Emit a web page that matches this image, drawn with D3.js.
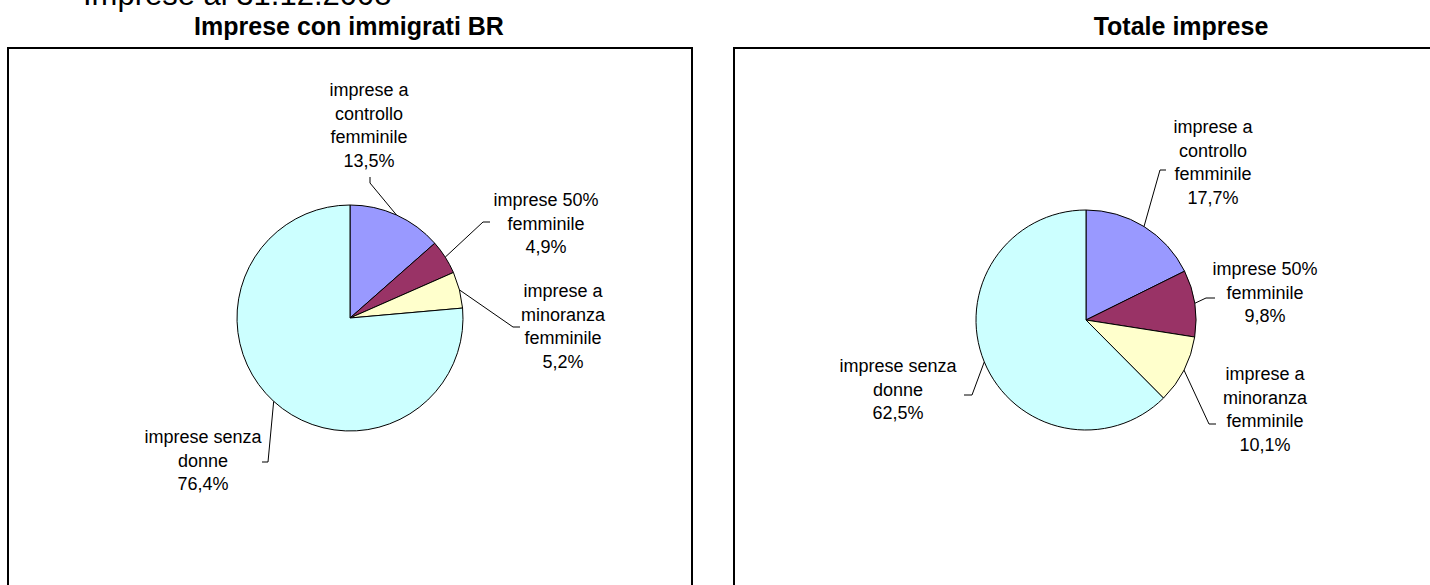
<!DOCTYPE html>
<html>
<head>
<meta charset="utf-8">
<script src="https://cdn.jsdelivr.net/npm/d3@7"></script>
<style>
  html, body { margin: 0; padding: 0; background: #fff; overflow: hidden; }
  svg { display: block; font-family: "Liberation Sans", Arial, sans-serif; }
</style>
</head>
<body>
<div id="chart"></div>
<script>
// data
const categories = ["impresa a controllo femminile", "imprese 50% femminile", "imprese a minoranza femminile", "imprese senza donne"];
const labelLines = [
    ["imprese a", "controllo", "femminile"],
    ["imprese 50%", "femminile"],
    ["imprese a", "minoranza", "femminile"],
    ["imprese senza", "donne"]
];
const immigratiValues = [13.5, 4.9, 5.2, 76.4];
const totaleValues = [17.7, 9.8, 10.1, 62.5];
const chartTitles = ["Imprese con immigrati BR", "Totale imprese"];
const pageTitle = "Imprese al 31.12.2008";
const colorSchema = ["#9999FF", "#993366", "#FFFFCC", "#CCFFFF"];

// layout (label centre x, first baseline y, leader elbow, leader end)
const panels = [
    {
        values: immigratiValues, title: chartTitles[0],
        box: [8, 48, 684], cx: 350, cy: 318, r: 113, titleX: 349,
        labels: [
            {x: 369, y: 96,  elbow: [370, 183], end: [370, 177]},
            {x: 546, y: 206, elbow: [483, 222], end: [490, 222]},
            {x: 563, y: 297, elbow: [513, 327], end: [520, 327]},
            {x: 203, y: 443, elbow: [268, 462], end: [262, 462]}
        ]
    },
    {
        values: totaleValues, title: chartTitles[1],
        box: [734, 48, 760], cx: 1086, cy: 320, r: 110, titleX: 1181,
        labels: [
            {x: 1213, y: 133, elbow: [1160, 170], end: [1166, 170]},
            {x: 1265, y: 275, elbow: [1206, 298], end: [1215, 298]},
            {x: 1265, y: 380, elbow: [1209, 424], end: [1216, 424]},
            {x: 898,  y: 372, elbow: [972, 395],  end: [964, 395]}
        ]
    }
];

const width = 1430, height = 585, lineH = 23.5;
const it = d3.formatLocale({decimal: ",", thousands: ".", grouping: [3], currency: ["€", ""]});
const pct = v => it.format(".1f")(v) + "%";
const colorScale = d3.scaleOrdinal().domain(categories).range(colorSchema);

const svg = d3.select("#chart").append("svg")
    .attr("width", width).attr("height", height);

svg.append("text")
    .attr("x", 83).attr("y", 5)
    .attr("font-size", 31)
    .text(pageTitle);

const pie = d3.pie().sort(null).value(d => d.value);

panels.forEach(p => {
    const g = svg.append("g");

    g.append("text")
        .attr("x", p.titleX).attr("y", 35)
        .attr("text-anchor", "middle")
        .attr("font-size", 25).attr("font-weight", "bold")
        .text(p.title);

    g.append("rect")
        .attr("x", p.box[0]).attr("y", p.box[1])
        .attr("width", p.box[2]).attr("height", 600)
        .attr("fill", "none").attr("stroke", "#000").attr("stroke-width", 2);

    const arcs = pie(p.values.map((v, i) => ({key: categories[i], value: v})));
    const arc = d3.arc().innerRadius(0).outerRadius(p.r);

    const pieG = g.append("g").attr("transform", `translate(${p.cx},${p.cy})`);
    pieG.selectAll("path").data(arcs).enter()
        .append("path")
        .attr("d", arc)
        .attr("fill", d => colorScale(d.data.key))
        .attr("stroke", "#000").attr("stroke-width", 1);

    arcs.forEach((a, i) => {
        const lab = p.labels[i];
        const mid = (a.startAngle + a.endAngle) / 2;
        const sx = p.cx + p.r * Math.sin(mid), sy = p.cy - p.r * Math.cos(mid);
        g.append("polyline")
            .attr("points", [[sx, sy], lab.elbow, lab.end].map(q => q.join(",")).join(" "))
            .attr("fill", "none").attr("stroke", "#000").attr("stroke-width", 1);

        const lines = labelLines[i].concat([pct(a.data.value)]);
        const t = g.append("text")
            .attr("text-anchor", "middle")
            .attr("font-size", 18).attr("fill", "#000");
        lines.forEach((s, k) => {
            t.append("tspan").attr("x", lab.x).attr("y", lab.y + k * lineH).text(s);
        });
    });
});
</script>
</body>
</html>
